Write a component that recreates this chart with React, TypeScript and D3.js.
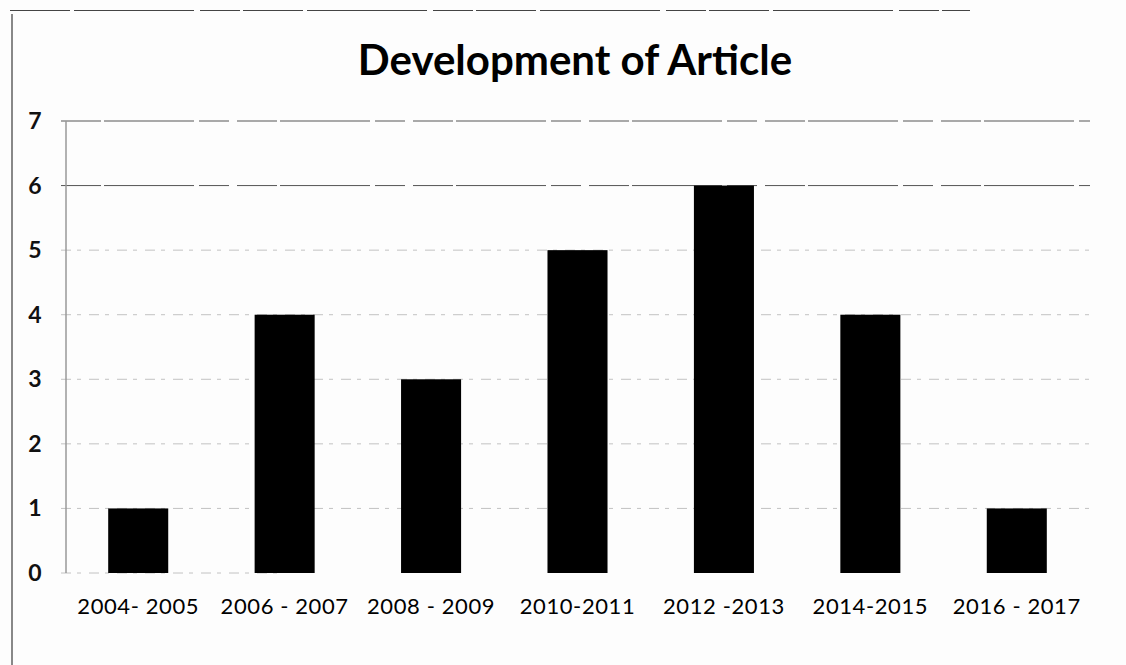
import React from "react";
import * as d3 from "d3";

const categories = [
  "2004- 2005",
  "2006 - 2007",
  "2008 - 2009",
  "2010-2011",
  "2012 -2013",
  "2014-2015",
  "2016 - 2017",
];
const articleCounts = [1, 4, 3, 5, 6, 4, 1];
const yTicks = [0, 1, 2, 3, 4, 5, 6, 7];
const chartTitle = "Development of Article";

const W = 1126;
const H = 665;
const plot = { left: 65, right: 1090, top: 121, bottom: 573 };

export default function App() {
  const x = d3
    .scaleBand<string>()
    .domain(categories)
    .range([plot.left, plot.right])
    .paddingInner(0.59)
    .paddingOuter(0.295);
  const y = d3.scaleLinear().domain([0, 7]).range([plot.bottom, plot.top]);
  const font = "Lato, 'Open Sans', sans-serif";

  return (
    <svg
      width={W}
      height={H}
      style={{ position: "absolute", left: 0, top: 0, background: "#fdfdfd" }}
    >
      <rect x={0} y={0} width={W} height={H} fill="#fdfdfd" />
      {/* outer frame lines */}
      <line x1={10} x2={970} y1={10.5} y2={10.5} stroke="#444" strokeWidth={1} strokeDasharray="60 4 120 6 40 3" />
      <line x1={12} x2={12} y1={14} y2={H} stroke="#888" strokeWidth={2} />

      <text
        x={575}
        y={75}
        textAnchor="middle"
        fontFamily={font}
        fontWeight={700}
        fontSize={42}
        fill="#000"
      >
        {chartTitle}
      </text>

      {/* gridlines */}
      {yTicks.map((t) => (
        <line
          key={"g" + t}
          x1={plot.left - 4}
          x2={t === 0 ? plot.left + 220 : plot.right}
          y1={y(t)}
          y2={y(t)}
          stroke={t >= 6 ? "#444" : "#aaa"}
          strokeWidth={1}
          strokeDasharray={t >= 6 ? "40 3 90 5 30 8" : "10 6 4 8"}
          opacity={t >= 6 ? 0.9 : 0.7}
        />
      ))}
      {/* y axis */}
      <line x1={plot.left + 1} x2={plot.left + 1} y1={y(7)} y2={y(0)} stroke="#999" strokeWidth={1.5} />

      {/* bars */}
      {articleCounts.map((v, i) => (
        <rect
          key={categories[i]}
          x={x(categories[i])}
          y={y(v)}
          width={x.bandwidth()}
          height={y(0) - y(v)}
          fill="#000"
        />
      ))}

      {/* y tick labels */}
      {yTicks.map((t) => (
        <text
          key={"yt" + t}
          x={35}
          y={y(t)}
          dy="0.35em"
          textAnchor="middle"
          fontFamily={font}
          fontWeight={700}
          fontSize={23}
          fill="#111"
        >
          {t}
        </text>
      ))}

      {/* x tick labels */}
      {categories.map((c) => (
        <text
          key={"xt" + c}
          x={(x(c) as number) + x.bandwidth() / 2}
          y={614}
          textAnchor="middle"
          fontFamily={font}
          fontSize={22}
          letterSpacing={0.6}
          fill="#000"
        >
          {c}
        </text>
      ))}
    </svg>
  );
}
